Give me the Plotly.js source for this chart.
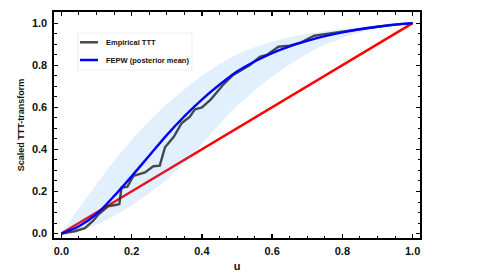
<!DOCTYPE html>
<html>
<head>
<meta charset="utf-8">
<script src="https://cdn.plot.ly/plotly-3.0.1.min.js"></script>
<style>html,body{margin:0;padding:0;background:#fff;}#chart{width:480px;height:276px;}</style>
</head>
<body>
<div id="chart"></div>
<script>
// Grid of u values for the model curve and its credible band
const uGrid = [0, 0.05, 0.1, 0.15, 0.2, 0.25, 0.3, 0.35, 0.4, 0.45, 0.5, 0.55, 0.6, 0.65, 0.7, 0.75, 0.8, 0.85, 0.9, 0.95, 1.0];
const meanV = [0, 0.035, 0.093, 0.178, 0.272, 0.37, 0.468, 0.557, 0.637, 0.707, 0.77, 0.818, 0.858, 0.89, 0.916, 0.938, 0.956, 0.971, 0.983, 0.993, 1.0];
const upperV = [0, 0.12, 0.235, 0.345, 0.445, 0.535, 0.615, 0.685, 0.75, 0.805, 0.85, 0.885, 0.912, 0.933, 0.949, 0.962, 0.973, 0.982, 0.99, 0.996, 1.0];
const lowerV = [0, 0.012, 0.042, 0.085, 0.135, 0.192, 0.257, 0.335, 0.425, 0.52, 0.605, 0.68, 0.745, 0.803, 0.855, 0.897, 0.93, 0.955, 0.975, 0.99, 1.0];

// Empirical scaled TTT-transform
const empU = [0, 0.038, 0.067, 0.09, 0.105, 0.133, 0.157, 0.165, 0.171, 0.188, 0.205, 0.238, 0.262, 0.28, 0.295, 0.32, 0.342, 0.366, 0.38, 0.4, 0.425, 0.46, 0.489, 0.537, 0.566, 0.585, 0.618, 0.65, 0.68, 0.72, 0.75, 0.79, 0.83, 0.88, 0.93, 1.0];
const empV = [0, 0.011, 0.026, 0.06, 0.09, 0.13, 0.137, 0.14, 0.218, 0.223, 0.274, 0.291, 0.32, 0.323, 0.41, 0.46, 0.524, 0.555, 0.59, 0.6, 0.637, 0.706, 0.754, 0.801, 0.841, 0.849, 0.888, 0.893, 0.907, 0.94, 0.948, 0.957, 0.967, 0.98, 0.99, 1.0];

// Reference diagonal
const diagU = [0, 1];
const diagV = [0, 1];

const tickVals = [0, 0.2, 0.4, 0.6, 0.8, 1.0];
const tickText = ["0.0", "0.2", "0.4", "0.6", "0.8", "1.0"];

const seriesNames = ['Empirical TTT', 'FEPW (posterior mean)'];
const seriesColors = ['rgba(40,44,48,0.85)', '#0000ff'];

const traces = [
  {x: diagU, y: diagV, mode: 'lines', line: {color: '#ff0000', width: 2.4}, showlegend: false, hoverinfo: 'skip'},
  {x: uGrid, y: lowerV, mode: 'lines', line: {width: 0, color: 'rgba(0,0,0,0)', shape: 'spline', smoothing: 0.8}, showlegend: false, hoverinfo: 'skip'},
  {x: uGrid, y: upperV, mode: 'lines', line: {width: 0, color: 'rgba(0,0,0,0)', shape: 'spline', smoothing: 0.8}, fill: 'tonexty', fillcolor: 'rgba(60,150,240,0.15)', showlegend: false, hoverinfo: 'skip'},
  {x: empU, y: empV, mode: 'lines', name: seriesNames[0], line: {color: seriesColors[0], width: 2.4}, showlegend: false},
  {x: uGrid, y: meanV, mode: 'lines', name: seriesNames[1], line: {color: seriesColors[1], width: 2.4, shape: 'spline', smoothing: 0.8}, showlegend: false}
];

const fontFam = 'Liberation Sans, Arial, sans-serif';
const axisCommon = {
  showgrid: false, zeroline: false, showline: true, linecolor: '#000', linewidth: 1.6,
  mirror: 'allticks', ticks: 'inside', ticklen: 4, tickwidth: 1.3, tickcolor: '#000',
  tickvals: tickVals, ticktext: tickText,
  tickfont: {family: fontFam, size: 11, color: '#111', weight: 'bold'},
  minor: {dtick: 0.05, ticks: 'inside', ticklen: 2.5, tickwidth: 1, tickcolor: '#000', showgrid: false}
};

// Custom legend (paper coordinates)
const legX0 = 0.0656, legX1 = 0.377, legY0 = 0.743, legY1 = 0.907;
const legRowY = [0.866, 0.7876];
const legLineX = [0.071, 0.1202];
const legTextX = 0.1366;

const shapes = [
  {type: 'rect', xref: 'paper', yref: 'paper', x0: legX0, x1: legX1, y0: legY0, y1: legY1,
   fillcolor: 'rgba(255,255,255,0.9)', line: {color: 'rgba(0,0,0,0.07)', width: 1}}
];
const annotations = [];
seriesNames.forEach((name, i) => {
  shapes.push({type: 'line', xref: 'paper', yref: 'paper', x0: legLineX[0], x1: legLineX[1], y0: legRowY[i], y1: legRowY[i],
    line: {color: seriesColors[i], width: 2.5}});
  annotations.push({xref: 'paper', yref: 'paper', x: legTextX, y: legRowY[i], xanchor: 'left', yanchor: 'middle',
    text: name, showarrow: false, font: {family: fontFam, size: 7.5, color: '#111', weight: 'bold'}});
});

const layout = {
  width: 480, height: 276,
  margin: {l: 54, r: 60, t: 12, b: 38},
  paper_bgcolor: '#fff', plot_bgcolor: '#fff',
  xaxis: Object.assign({}, axisCommon, {range: [-0.021, 1.021], ticklabelstandoff: 2,
    title: {text: 'u', font: {family: fontFam, size: 11, color: '#111', weight: 'bold'}, standoff: 6}}),
  yaxis: Object.assign({}, axisCommon, {range: [-0.021, 1.053], ticklabelstandoff: 3,
    title: {text: 'Scaled TTT-transform', font: {family: fontFam, size: 9, color: '#111', weight: 'bold'}, standoff: 6}}),
  shapes: shapes,
  annotations: annotations,
  showlegend: false
};

Plotly.newPlot('chart', traces, layout, {displayModeBar: false, staticPlot: true});
</script>
</body>
</html>
